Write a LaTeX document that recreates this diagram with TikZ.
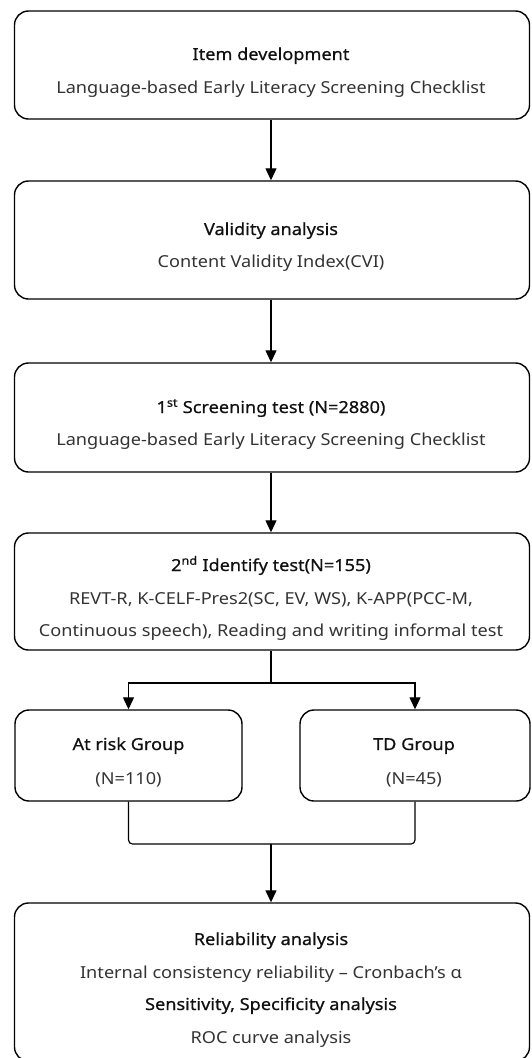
\documentclass[tikz,border=0pt]{standalone}
\usepackage{fontspec}
\setmainfont{Noto Sans}[FakeStretch=1.1]
\newfontfamily\titlefont[FakeBold=0.6,FakeStretch=1.1]{Noto Sans}
\usetikzlibrary{arrows.meta}
\definecolor{bodygray}{HTML}{333333}
\definecolor{titleblack}{HTML}{111111}
\begin{document}
\begin{tikzpicture}[x=1pt,y=-1pt,
  box/.style={draw=black, line width=1.4pt, rounded corners=14pt, rectangle, inner sep=0pt, minimum width=515pt},
  ttl/.style={anchor=base, inner sep=0pt, text=titleblack, font=\titlefont\fontsize{16.5}{19}\selectfont},
  bdy/.style={anchor=base, inner sep=0pt, text=bodygray, font=\fontsize{16.5}{19}\selectfont},
  conn/.style={draw=black, line width=1.2pt},
  arr/.style={conn, -{Triangle[width=11pt,length=12pt]}}
]
\useasboundingbox (0,0) rectangle (532,1058);
% boxes
\node[box, minimum height=108pt] (b1) at (272,65) {};
\node[box, minimum height=118pt] (b2) at (272,240) {};
\node[box, minimum height=109pt] (b3) at (272,417.5) {};
\node[box, minimum height=117pt] (b4) at (272,591.5) {};
\node[box, minimum width=227pt, minimum height=91pt] (g1) at (128.5,755.5) {};
\node[box, minimum width=230pt, minimum height=91pt] (g2) at (415,755.5) {};
\node[box, minimum height=158pt] (b5) at (272,982) {};
% texts
\node[ttl] (b1a) at (271,60) {Item development};
\node[bdy] (b1b) at (271,93) {Language-based Early Literacy Screening Checklist};
\node[ttl] (b2a) at (271,235) {Validity analysis};
\node[bdy] (b2b) at (271,267) {Content Validity Index(CVI)};
\node[ttl] (b3a) at (271,413) {1\textsuperscript{st} Screening test (N=2880)};
\node[bdy] (b3b) at (271,445) {Language-based Early Literacy Screening Checklist};
\node[ttl] (b4a) at (271,571) {2\textsuperscript{nd} Identify test(N=155)};
\node[bdy] (b4b) at (271,604) {REVT-R, K-CELF-Pres2(SC, EV, WS), K-APP(PCC-M,};
\node[bdy] (b4c) at (271,636) {Continuous speech), Reading and writing informal test};
\node[ttl] (g1a) at (128.5,750) {At risk Group};
\node[bdy] (g1b) at (128.5,784) {(N=110)};
\node[ttl] (g2a) at (414,750) {TD Group};
\node[bdy] (g2b) at (414,784) {(N=45)};
\node[ttl] (b5a) at (271,945) {Reliability analysis};
\node[bdy] (b5b) at (271,978) {Internal consistency reliability -- Cronbach's α};
\node[ttl] (b5c) at (271,1010) {Sensitivity, Specificity analysis};
\node[bdy] (b5d) at (271,1043) {ROC curve analysis};
% connectors
\coordinate (split) at (271,683);
\coordinate (merge) at (271,844);
\draw[arr] (b1.south -| b1a) -- (b2.north -| b1a);
\draw[arr] (b2.south -| b1a) -- (b3.north -| b1a);
\draw[arr] (b3.south -| b1a) -- (b4.north -| b1a);
\draw[conn] (b4.south -| b1a) -- (split);
\draw[arr] (split) -| (g1.north);
\draw[arr] (split) -| (g2.north);
\draw[conn, rounded corners=4pt] (g1.south) |- (merge) -| (g2.south);
\draw[arr] (merge) -- (b5.north -| merge);
\end{tikzpicture}
\end{document}
